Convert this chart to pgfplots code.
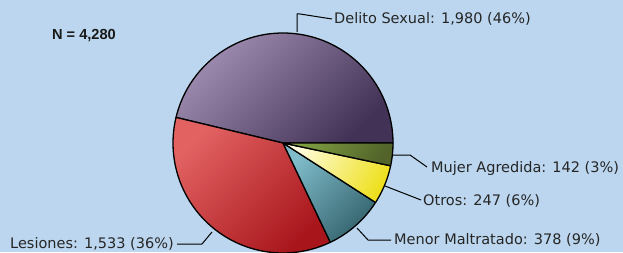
\documentclass[border=0pt]{standalone}
\usepackage{pgfplots}
\pgfplotsset{compat=1.18}
\usepackage{pgfplotstable}
\usepackage{fontspec}
\setmainfont{DejaVu Sans}
\newfontfamily\arialfont{Liberation Sans}
\definecolor{bg}{RGB}{187,214,238}
\definecolor{dsA}{RGB}{160,142,178}
\definecolor{dsB}{RGB}{66,50,86}
\definecolor{leA}{RGB}{226,98,98}
\definecolor{leB}{RGB}{168,22,28}
\definecolor{meA}{RGB}{128,188,202}
\definecolor{meB}{RGB}{52,100,110}
\definecolor{otA}{RGB}{255,252,220}
\definecolor{otB}{RGB}{238,224,30}
\definecolor{muA}{RGB}{128,160,66}
\definecolor{muB}{RGB}{82,100,42}
\pgfplotstableread{
cat count
DelitoSexual 1980
Lesiones 1533
MenorMaltratado 378
Otros 247
MujerAgredida 142
}\piedata
\pagecolor{bg}
\begin{document}
\begin{tikzpicture}
\pgfplotstablegetelem{0}{count}\of\piedata \edef\vA{\pgfplotsretval}
\pgfplotstablegetelem{1}{count}\of\piedata \edef\vB{\pgfplotsretval}
\pgfplotstablegetelem{2}{count}\of\piedata \edef\vC{\pgfplotsretval}
\pgfplotstablegetelem{3}{count}\of\piedata \edef\vD{\pgfplotsretval}
\pgfplotstablegetelem{4}{count}\of\piedata \edef\vE{\pgfplotsretval}
\pgfmathsetmacro\tot{\vA+\vB+\vC+\vD+\vE}
\pgfmathsetmacro\aA{360*(\vA/\tot)}
\pgfmathsetmacro\aB{\aA+360*(\vB/\tot)}
\pgfmathsetmacro\aC{\aB+360*(\vC/\tot)}
\pgfmathsetmacro\aD{\aC+360*(\vD/\tot)}
\def\cx{283}\def\cy{109}\def\R{110}
\begin{axis}[
  name=ax,
  hide axis, scale only axis,
  width=623pt, height=252pt,
  xmin=0, xmax=623, ymin=0, ymax=252,
  clip=true,
]
\addplot[draw=black, line width=1.3pt, line join=round, top color=dsA, bottom color=dsB, shading angle=45,
  domain=0:\aA, samples=90, variable=\t]
  ({\cx+\R*cos(\t)}, {\cy+\R*sin(\t)}) -- (axis cs:\cx,\cy) -- cycle;
\addplot[draw=black, line width=1.3pt, line join=round, top color=leA, bottom color=leB, shading angle=45,
  domain=\aA:\aB, samples=80, variable=\t]
  ({\cx+\R*cos(\t)}, {\cy+\R*sin(\t)}) -- (axis cs:\cx,\cy) -- cycle;
\addplot[draw=black, line width=1.3pt, line join=round, top color=meA, bottom color=meB, shading angle=45,
  domain=\aB:\aC, samples=30, variable=\t]
  ({\cx+\R*cos(\t)}, {\cy+\R*sin(\t)}) -- (axis cs:\cx,\cy) -- cycle;
\addplot[draw=black, line width=1.3pt, line join=round, top color=otA, bottom color=otB, shading angle=60,
  domain=\aC:\aD, samples=25, variable=\t]
  ({\cx+\R*cos(\t)}, {\cy+\R*sin(\t)}) -- (axis cs:\cx,\cy) -- cycle;
\addplot[draw=black, line width=1.3pt, line join=round, top color=muA, bottom color=muB, shading angle=60,
  domain=\aD:360, samples=20, variable=\t]
  ({\cx+\R*cos(\t)}, {\cy+\R*sin(\t)}) -- (axis cs:\cx,\cy) -- cycle;

% leader lines
\draw[black, line width=1pt] (axis cs:297,220) -- (axis cs:297,238) -- (axis cs:300,238) -- (axis cs:332,233);
\draw[black, line width=1pt] (axis cs:393,97) -- (axis cs:410,97) -- (axis cs:427,85);
\draw[black, line width=1pt] (axis cs:385,66) -- (axis cs:421,52);
\draw[black, line width=1pt] (axis cs:357,24) -- (axis cs:368,12) -- (axis cs:391,12);
\draw[black, line width=1pt] (axis cs:177,8) -- (axis cs:202,8) -- (axis cs:212,20);

\begin{scope}[every node/.style={inner sep=0pt, text=black!85, font=\fontsize{14.5}{16}\selectfont}]
\node[anchor=west] at (axis cs:334,233) {Delito Sexual: 1,980 (46\%)};
\node[anchor=west] at (axis cs:431,84) {Mujer Agredida: 142 (3\%)};
\node[anchor=west] at (axis cs:423,51) {Otros: 247 (6\%)};
\node[anchor=west] at (axis cs:394,12) {Menor Maltratado: 378 (9\%)};
\node[anchor=east] at (axis cs:174,8) {Lesiones: 1,533 (36\%)};
\end{scope}
\node[inner sep=0pt, font=\arialfont\bfseries\fontsize{14.6}{16}\selectfont, text=black!90] at (axis cs:84,216) {N = 4,280};
\end{axis}
\pgfresetboundingbox
\path[use as bounding box] (ax.south west) rectangle (ax.north east);
\end{tikzpicture}
\end{document}
